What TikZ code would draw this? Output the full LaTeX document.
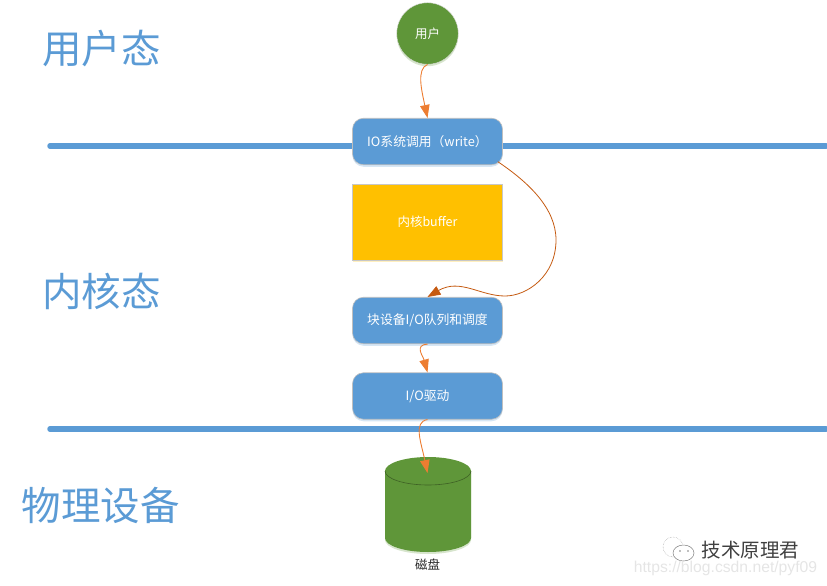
\documentclass[tikz,border=0pt]{standalone}
\usepackage{fontspec}
\setmainfont{Noto Sans CJK SC}
\setsansfont{Liberation Sans}
\usetikzlibrary{arrows.meta,shadows,calc}
\definecolor{cblue}{HTML}{5B9BD5}
\definecolor{cgreen}{HTML}{5F9639}
\definecolor{cgold}{HTML}{FFC000}
\definecolor{corange}{HTML}{ED7D31}
\definecolor{cdark}{HTML}{C55A11}
\tikzset{
  softshadow/.style={drop shadow={shadow xshift=0pt,shadow yshift=-2pt,fill=#1,opacity=.25}},
  procbox/.style={draw=black!25,line width=.6pt,fill=cblue,rounded corners=11pt,minimum width=150pt,minimum height=46.5pt,inner sep=0pt,text=white,font=\fontsize{12.8}{15}\selectfont,softshadow=cblue},
  bufbox/.style={draw=black!22,line width=.6pt,fill=cgold,minimum width=150pt,minimum height=76pt,inner sep=0pt,text=white,font=\fontsize{12.5}{14}\selectfont,softshadow=cgold},
  usercircle/.style={circle,draw=black!15,line width=.4pt,fill=cgreen,minimum size=61.5pt,inner sep=0pt,text=white,font=\fontsize{12.5}{14}\selectfont,softshadow=cgreen},
  diskarea/.style={minimum width=86pt,minimum height=95pt,inner sep=0pt},
  layerline/.style={draw=cblue,line width=5.5pt},
  layertitle/.style={text=cblue,inner sep=0pt,font=\fontsize{39.5}{44}\selectfont},
  flow/.style={draw=corange,line width=.9pt,-{Triangle[length=13pt,width=9.5pt,fill=corange]}},
  flowdark/.style={draw=cdark,line width=.8pt,-{Triangle[length=13pt,width=9.5pt,fill=cdark]}},
}
\begin{document}
\begin{tikzpicture}[x=1pt,y=-1pt]
\useasboundingbox (0,0) rectangle (827,586);
% layer lines
\coordinate (la) at (50,146);
\coordinate (lb) at (826,146);
\coordinate (lc) at (50,429);
\coordinate (ld) at (826,429);
\draw[layerline,line cap=round] (la) -- (lb);
\draw[layerline,line cap=round] (lc) -- (ld);
% titles
\node[layertitle] (t1) at (101.5,49) {用户态};
\node[layertitle] (t2) at (101.5,291) {内核态};
\node[layertitle] (t3) at (100.5,505) {物理设备};
% nodes
\node[usercircle] (user) at (427.5,33.5) {用户};
\node[procbox] (io) at (427.5,141.5) {IO系统调用（write）};
\node[bufbox] (buf) at (427.5,222) {内核buffer};
\node[procbox] (blk) at (427.5,320.5) {块设备I/O队列和调度};
\node[procbox] (drv) at (427.5,396) {I/O驱动};
% disk
\node[diskarea] (disk) at (428,504.5) {};
\path[fill=cgreen,softshadow=cgreen] (385,471)
  .. controls (385,463.3) and (404.3,457) .. (428,457)
  .. controls (451.7,457) and (471,463.3) .. (471,471)
  -- (471,538)
  .. controls (471,545.7) and (451.7,552) .. (428,552)
  .. controls (404.3,552) and (385,545.7) .. (385,538) -- cycle;
\draw[black!35!cgreen,line width=.6pt] (385,471)
  .. controls (385,478.7) and (404.3,485) .. (428,485)
  .. controls (451.7,485) and (471,478.7) .. (471,471);
\node[font=\fontsize{12.5}{14}\selectfont,text=black!85,inner sep=0pt] (disklabel) at (427.5,565) {磁盘};
\coordinate (diskin) at (427.5,473);
% connectors
\draw[flow] (user.south) .. controls (416,69) and (422,92) .. (io.north);
\draw[flowdark] ([xshift=-5pt]io.-15) .. controls (528,182) and (556,208) .. (556,240)
  .. controls (556,276) and (527,296) .. (505,296)
  .. controls (480,296) and (460,278) .. (blk.north);
\draw[flow] (blk.south) .. controls (414,345) and (423,356) .. (drv.north);
\draw[flow] (drv.south) .. controls (413,422) and (421,442) .. (diskin);
% watermark
\draw[black!35,line width=.5pt,densely dotted] (673,547) ellipse (10pt and 10pt);
\draw[black!50,line width=.5pt,fill=white] (683.5,553) ellipse (10.5pt and 8pt);
\fill[black!50] (680,551) circle (.8pt) (688,551) circle (.8pt);
\node[text=black!75,inner sep=0pt,font=\fontsize{19.5}{22}\selectfont] (wm) at (750.5,550) {技术原理君};
\node[text=black!10,inner sep=0pt,font=\sffamily\fontsize{15.7}{18}\selectfont] (url) at (725.5,568) {https://blog.csdn.net/pyf09};
\end{tikzpicture}
\end{document}
